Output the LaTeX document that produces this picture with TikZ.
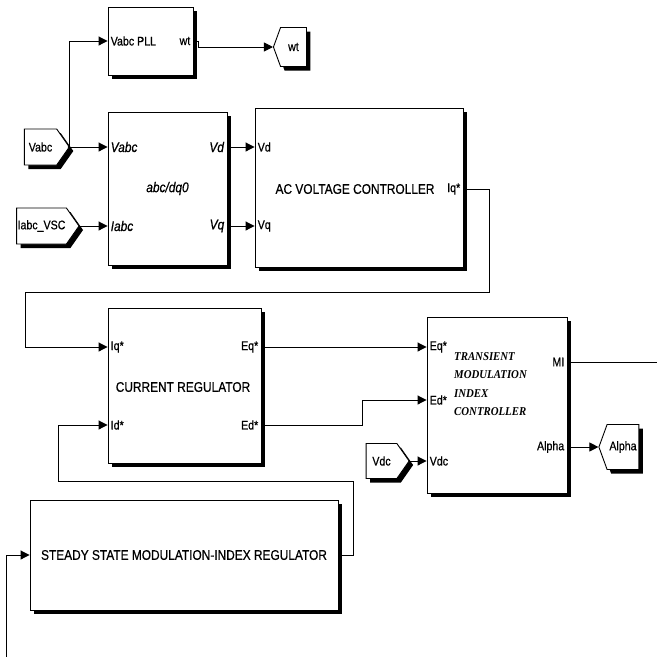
\documentclass[tikz,border=0pt]{standalone}
\usepackage{fontspec}
\setmainfont{Liberation Sans}[FakeStretch=0.85, FakeBold=0.6]
\newfontfamily\tmicfont{Liberation Serif}[FakeStretch=0.9]
\usepackage{tikz}
\usetikzlibrary{arrows.meta, shapes.symbols, shadows, calc}

\begin{document}
\begin{tikzpicture}[x=1pt, y=-1pt, font=\fontsize{12.5}{14}\selectfont,
  block/.style={draw, line width=0.9pt, fill=white,
    drop shadow={shadow xshift=4pt, shadow yshift=-4pt, fill=black, opacity=1}},
  tagin/.style={block, shape=signal, signal to=east, signal pointer angle=110, inner sep=1pt},
  tagout/.style={block, shape=signal, signal to=west, signal pointer angle=140, inner sep=1pt},
  pin/.style={inner sep=3pt, anchor=west},
  pout/.style={inner sep=3pt, anchor=east},
  title/.style={font=\fontsize{14}{16}\selectfont},
  sig/.style={line width=1pt, -{Triangle[length=9pt, width=9pt]}},
  wire/.style={line width=1pt}]

  % ----- Frame -----
  \fill[white] (0,0) rectangle (657,657);
  \useasboundingbox (0,0) rectangle (657,657);

  % ----- Blocks -----
  \node[block, minimum width=85pt, minimum height=68pt] (pll) at (150.5,41) {};
  \node[block, title, minimum width=119pt, minimum height=153pt] (abcdq) at (167.5,188.5) {\textit{abc/dq0}};
  \node[block, minimum width=208pt, minimum height=159pt] (acvc) at (359,187.5) {};
  \node[block, minimum width=153pt, minimum height=155pt] (curreg) at (184.5,385.5) {};
  \node[block, minimum width=140pt, minimum height=176pt] (tmic) at (497,405) {};
  \node[block, title, minimum width=308pt, minimum height=110pt] (ssmir) at (184,555)
    {STEADY STATE MODULATION-INDEX REGULATOR};

  % Block texts
  \node[title] (acvcText) at (355,189) {AC VOLTAGE CONTROLLER};
  \node[title] (curText) at (183,387) {CURRENT REGULATOR};
  \node[anchor=north west, align=left, inner sep=0pt,
    font=\tmicfont\bfseries\itshape\fontsize{12}{18.5}\selectfont] (tmicText) at (454,352)
    {TRANSIENT\\MODULATION\\INDEX\\CONTROLLER};

  % ----- Tags -----
  \node[tagin, minimum width=45pt, minimum height=36pt] (vabcIn) at (40.5,147) {Vabc};
  \node[tagin, minimum width=47pt, minimum height=36pt] (iabcIn) at (41.5,226) {Iabc\_VSC};
  \node[tagin, minimum width=43pt, minimum height=35pt] (vdcIn) at (381.5,461) {Vdc};
  \node[tagout, minimum width=33pt, minimum height=39pt] (wtOut) at (293.5,47) {wt};
  \node[tagout, minimum width=40pt, minimum height=45pt] (alphaOut) at (623,447) {Alpha};

  % ----- Ports -----
  \node[pin] (pllVabc) at (pll.west |- 0,41) {Vabc PLL};
  \node[pout] (pllWt) at (pll.east |- 0,41) {wt};
  \node[pin, title] (abcVabc) at (abcdq.west |- 0,147) {\textit{Vabc}};
  \node[pin, title] (abcIabc) at (abcdq.west |- 0,226) {\textit{Iabc}};
  \node[pout, title] (abcVd) at (abcdq.east |- 0,147) {\textit{Vd}};
  \node[pout, title] (abcVq) at (abcdq.east |- 0,226) {\textit{Vq}};
  \node[pin] (acvcVd) at (acvc.west |- 0,147) {Vd};
  \node[pin] (acvcVq) at (acvc.west |- 0,226) {Vq};
  \node[pout] (acvcIq) at (acvc.east |- 0,189) {Iq*};
  \node[pin] (curIq) at (curreg.west |- 0,347) {Iq*};
  \node[pin] (curId) at (curreg.west |- 0,425) {Id*};
  \node[pout] (curEq) at (curreg.east |- 0,347) {Eq*};
  \node[pout] (curEd) at (curreg.east |- 0,425) {Ed*};
  \node[pin] (tmicEq) at (tmic.west |- 0,347) {Eq*};
  \node[pin] (tmicEd) at (tmic.west |- 0,400) {Ed*};
  \node[pin] (tmicVdc) at (tmic.west |- 0,461) {Vdc};
  \node[pout] (tmicMi) at (tmic.east |- 0,362) {MI};
  \node[pout] (tmicAlpha) at (tmic.east |- 0,447) {Alpha};

  % ----- Bend points -----
  \coordinate (vabcSplit) at (69,147);
  \coordinate (iqBendA) at (489,292);
  \coordinate (iqBendB) at (25,292);
  \coordinate (edBend) at (362,400);
  \coordinate (ssBendA) at (353,481);
  \coordinate (ssBendB) at (58,481);
  \coordinate (miEnd) at (657,362);
  \coordinate (ssStart) at (6,657);

  % ----- Connectors -----
  \draw[sig] (vabcIn.east) -- (abcVabc.west);
  \draw[sig] (vabcSplit) |- (pllVabc.west);
  \fill (vabcSplit) circle (1.3pt);
  \draw[sig] (iabcIn.east) -- (abcIabc.west);
  \draw[sig] (pllWt.east) -- ++(5,0) |- (wtOut.west);
  \draw[sig] (abcVd.east) -- (acvcVd.west);
  \draw[sig] (abcVq.east) -- (acvcVq.west);
  \draw[sig] (acvcIq.east) -| (iqBendA) -- (iqBendB) |- (curIq.west);
  \draw[sig] (curEq.east) -- (tmicEq.west);
  \draw[sig] (curEd.east) -| (edBend) -- (tmicEd.west);
  \draw[sig] (vdcIn.east) -- (tmicVdc.west);
  \draw[wire] (tmicMi.east) -- (miEnd);
  \draw[sig] (tmicAlpha.east) -- (alphaOut.west);
  \draw[sig] (ssmir.east) -| (ssBendA) -- (ssBendB) |- (curId.west);
  \draw[sig] (ssStart) |- (ssmir.west);
\end{tikzpicture}
\end{document}
